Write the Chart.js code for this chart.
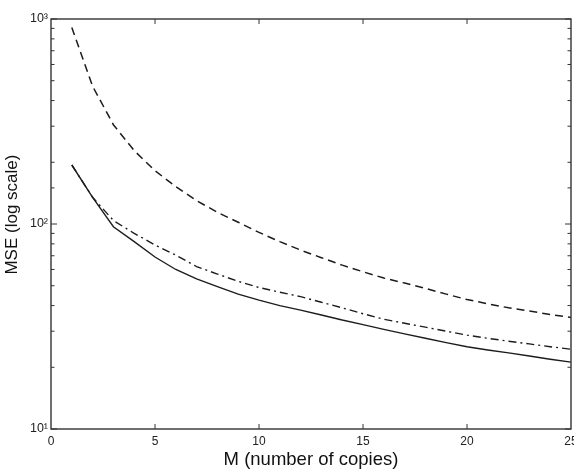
<!DOCTYPE html>
<html>
<head>
<meta charset="utf-8">
<script src="https://cdn.jsdelivr.net/npm/chart.js@4.4.1/dist/chart.umd.min.js"></script>
<style>
  html, body { margin: 0; padding: 0; background: #fff; }
  #wrap { width: 574px; height: 469px; }
</style>
</head>
<body>
<div id="wrap"><canvas id="chart"></canvas></div>
<script>
const copies = [1, 2, 3, 4, 5, 6, 7, 8, 9, 10, 11, 12, 13, 14, 15, 16, 17, 18, 19, 20, 21, 22, 23, 24, 25];
const dashedMse = [910, 470, 305, 228, 182, 152, 130, 114, 102, 91, 82, 74.6, 68.5, 63, 58.5, 54.5, 51.5, 48.5, 45.5, 42.8, 40.8, 39, 37.6, 36.2, 35];
const dashDotMse = [194, 135, 104, 90, 79, 70.5, 62, 57, 52.5, 49, 46.5, 44.2, 41.5, 39, 36.5, 34.3, 32.8, 31.4, 30, 28.7, 27.7, 26.8, 26, 25.2, 24.5];
const solidMse = [194, 135, 97, 82, 69, 60, 54, 49.5, 45.5, 42.5, 40, 38, 36, 34, 32.3, 30.6, 29.1, 27.7, 26.4, 25.2, 24.3, 23.5, 22.7, 21.9, 21.2];
const xTicks = [0, 5, 10, 15, 20, 25];
const yLabels = { 10: '10\u00B9', 100: '10\u00B2', 1000: '10\u00B3' };

const ink = '#1c1c1c';
const font = "'Liberation Sans', Arial, sans-serif";

function points(values) { return copies.map((m, i) => ({ x: m, y: values[i] })); }

// Matlab style box with inward ticks on all four sides
const frame = {
  id: 'frame',
  afterDraw(chart) {
    const { ctx, chartArea: a, scales: { x, y } } = chart;
    ctx.save();
    ctx.strokeStyle = '#333';
    ctx.lineWidth = 1.4;
    ctx.strokeRect(a.left, a.top, a.right - a.left, a.bottom - a.top);
    ctx.lineWidth = 1;
    ctx.beginPath();
    xTicks.slice(1, -1).forEach(v => {
      const px = x.getPixelForValue(v);
      ctx.moveTo(px, a.bottom); ctx.lineTo(px, a.bottom - 5);
      ctx.moveTo(px, a.top); ctx.lineTo(px, a.top + 5);
    });
    y.ticks.forEach(t => {
      const py = y.getPixelForValue(t.value);
      const len = yLabels[t.value] ? 6 : 3.5;
      ctx.moveTo(a.left, py); ctx.lineTo(a.left + len, py);
      ctx.moveTo(a.right, py); ctx.lineTo(a.right - len, py);
    });
    ctx.stroke();
    ctx.restore();
  }
};

new Chart(document.getElementById('chart'), {
  type: 'line',
  data: {
    datasets: [
      { data: points(dashedMse), borderColor: ink, borderWidth: 1.5, borderDash: [8, 5], pointRadius: 0, tension: 0 },
      { data: points(dashDotMse), borderColor: ink, borderWidth: 1.4, borderDash: [8, 4, 2, 4], pointRadius: 0, tension: 0 },
      { data: points(solidMse), borderColor: ink, borderWidth: 1.4, pointRadius: 0, tension: 0 }
    ]
  },
  options: {
    responsive: true,
    maintainAspectRatio: false,
    animation: false,
    layout: { padding: { top: 19, right: 3, left: 0, bottom: 0 } },
    plugins: { legend: { display: false }, tooltip: { enabled: false } },
    scales: {
      x: {
        type: 'linear', min: 0, max: 25,
        afterBuildTicks: scale => { scale.ticks = xTicks.map(v => ({ value: v })); },
        afterFit: scale => { scale.height = 40; scale.paddingLeft = 0; scale.paddingRight = 0; },
        grid: { display: false, drawTicks: false },
        border: { display: false },
        ticks: { color: '#222', padding: 5, maxRotation: 0, autoSkip: false, font: { family: font, size: 12 } },
        title: { display: true, text: 'M (number of copies)', color: '#111', padding: { top: 0, bottom: 0 }, font: { family: font, size: 18.5, lineHeight: 1 } }
      },
      y: {
        type: 'logarithmic', min: 10, max: 1000,
        afterFit: scale => { scale.width = 51; scale.paddingTop = 0; scale.paddingBottom = 0; },
        grid: { display: false, drawTicks: false },
        border: { display: false },
        ticks: {
          color: '#222', padding: 3, autoSkip: false,
          font: { family: font, size: 12.5 },
          callback: v => yLabels[v] || ''
        },
        title: { display: true, text: '    MSE (log scale)', color: '#111', padding: { top: 4, bottom: 0 }, font: { family: font, size: 17, lineHeight: 1 } }
      }
    }
  },
  plugins: [frame]
});
</script>
</body>
</html>
